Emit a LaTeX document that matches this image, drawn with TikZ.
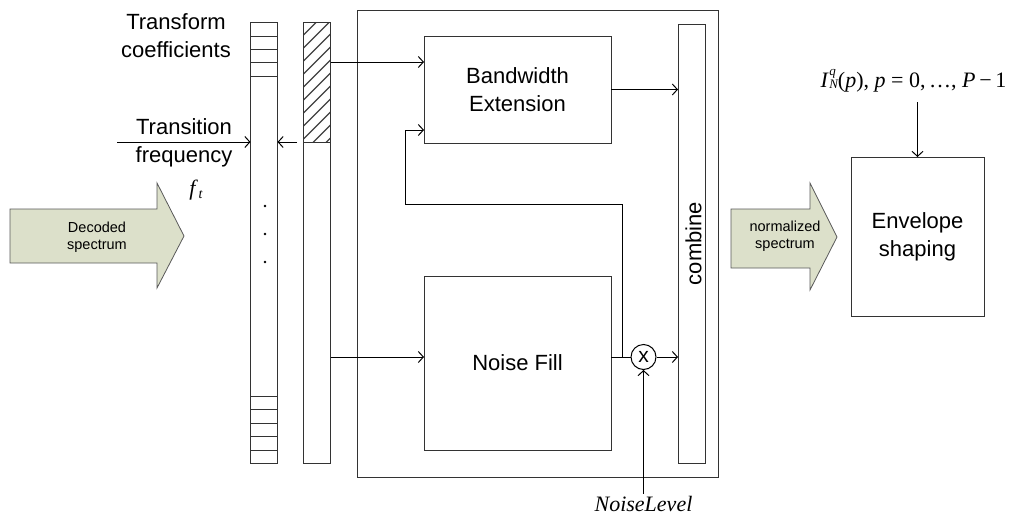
\documentclass[tikz,border=0pt]{standalone}
\usepackage{fontspec}
\setmainfont{Liberation Sans}
\newfontfamily\serif{Liberation Serif}
\usetikzlibrary{arrows.meta,calc}
\definecolor{lc}{HTML}{333333}
\definecolor{arrfill}{HTML}{DCE0CA}
\begin{document}
\begin{tikzpicture}[x=1pt,y=-1pt,
  box/.style={draw=lc, line width=1pt, inner sep=0pt, outer sep=0pt, anchor=north west},
  arr/.style={draw=black, line width=1pt, -{Straight Barb[length=5pt,width=11pt,line width=1pt]}},
  ln/.style={draw=black, line width=1pt},
  big/.style={font=\fontsize{22}{28}\selectfont, align=center},
  small/.style={font=\fontsize{14.5}{17}\selectfont, align=center},
  fat/.style={draw=black!65, fill=arrfill, line width=0.8pt}]
\useasboundingbox (0,0) rectangle (1016,514);

% left coefficient bar
\node[box, minimum width=27pt, minimum height=441pt] (lb) at (250.5,22) {};
\foreach \d in {14,27,40.5,54,374,387.5,401,414.5,428}
  \draw[lc, line width=1pt] ([yshift=-\d pt]lb.north west) -- ([yshift=-\d pt]lb.north east);
\fill (265,206) circle (1.4pt);
\fill (265,234) circle (1.4pt);
\fill (265,262) circle (1.4pt);

% right bar with hatched part
\node[box, minimum width=27pt, minimum height=441pt] (rb) at (303.5,22) {};
\begin{scope}
  \clip (rb.north west) rectangle ([yshift=-120pt]rb.north east);
  \foreach \k in {1,...,13}
    \draw[black!75, line width=1.2pt] ($(rb.north west)+(0,\k*13)$) -- ++(27,-27);
\end{scope}
\draw[lc, line width=1pt] (rb.north west) rectangle (rb.south east);
\draw[lc, line width=1pt] ([yshift=-120pt]rb.north west) -- ([yshift=-120pt]rb.north east);

% texts on the left
\node[big] (tc) at (176,35.5) {Transform\\coefficients};
\node[big] (tr) at (184,142.5) {Transition\\frequency};
\node[font=\serif\fontsize{22}{26}\selectfont] (ft) at (196,190) {\textit{f}\kern0.5pt\raisebox{-3pt}{\fontsize{14}{14}\selectfont\itshape t}};

\coordinate (tfin) at (117,142);
\draw[arr] (tfin) -- (tfin -| lb.west);
\coordinate (hsrc) at (297,142);
\draw[arr] (hsrc) -- (hsrc -| lb.east);

% decoded spectrum arrow
\draw[fat] (10,209) -- (157,209) -- (157,183) -- (184,236) -- (157,288) -- (157,263) -- (10,263) -- cycle;
\node[small] (ds) at (97,237) {Decoded\\spectrum};

% container and inner blocks
\node[box, minimum width=361pt, minimum height=467pt] (ct) at (357,10) {};
\node[box, minimum width=187pt, minimum height=107pt, big] (be) at (424,36) {Bandwidth\\Extension};
\node[box, minimum width=187pt, minimum height=174pt, big] (nf) at (424,276) {Noise Fill};
\node[box, minimum width=27pt, minimum height=439pt] (cb) at (678,24) {};
\node[big, rotate=90] (cbt) at ([xshift=2pt]cb.center) {combine};
\node[draw=black, line width=1pt, circle, minimum size=25pt, inner sep=0pt, font=\fontsize{21}{21}\selectfont] (mul) at (643.5,357) {x};

% connections
\coordinate (pbe1) at ([yshift=-26pt]be.north west);
\draw[arr] (pbe1 -| rb.east) -- (pbe1);
\coordinate (pbe2) at ([yshift=-94pt]be.north west);
\coordinate (jn) at (622,357);
\coordinate (fbx) at (405,204);
\draw[arr] (jn) |- (fbx) |- (pbe2);
\draw[ln] (mul.west -| nf.east) -- (mul.west);
\draw[arr] (mul.west -| rb.east) -- (mul.west -| nf.west);
\draw[arr] (mul.east) -- (mul.east -| cb.west);
\draw[arr] (be.east) -- (be.east -| cb.west);

\node[font=\serif\itshape\fontsize{22}{26}\selectfont, anchor=base, inner sep=2pt] (nl) at (643.5,511) {NoiseLevel};
\draw[arr] (nl.north) -- (mul.south);

% normalized spectrum arrow
\draw[fat] (731,209) -- (810,209) -- (810,183) -- (837,237) -- (810,290) -- (810,268) -- (731,268) -- cycle;
\node[small] (ns) at (785,236) {normalized\\spectrum};

% envelope shaping
\node[font=\serif\fontsize{22}{26}\selectfont, anchor=base] (frm) at (913.5,87)
  {\textit{I}\kern0.5pt\raisebox{-1pt}{\vbox{\fontsize{13}{9}\selectfont\itshape\baselineskip=9pt\hbox{q}\hbox{N}}}(\textit{p}), \textit{p} = 0,\,\ldots, \textit{P}\,−\,1};
\node[box, minimum width=133pt, minimum height=159pt, big] (env) at (851,157) {Envelope\\shaping};
\coordinate (fa) at ([yshift=-7pt]frm.south);
\draw[arr] (fa -| env.north) -- (env.north);
\end{tikzpicture}
\end{document}
